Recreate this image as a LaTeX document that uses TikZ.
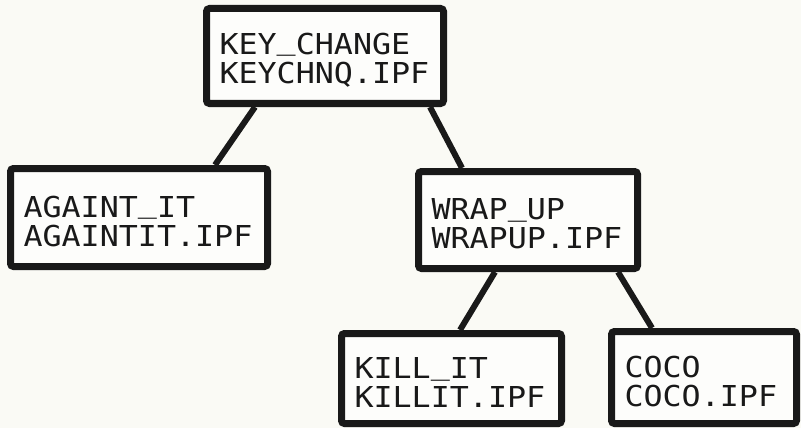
\documentclass[tikz,border=0pt]{standalone}
\usepackage{fontspec}
\setmonofont[FakeStretch=1.1]{DejaVu Sans Mono}
\usetikzlibrary{calc}
\definecolor{paper}{RGB}{250,250,245}
\definecolor{ink}{RGB}{25,25,25}
% underscore sitting just under the baseline
\newcommand\us{\raisebox{0.15em}{\_}}
% taller first line, so the two lines sit a little lower in the box
\newcommand\topline{\rule{0pt}{29pt}}
\tikzset{
  filebox/.style={draw=ink, line width=7pt, rounded corners=3pt, fill=white!60!paper,
    inner xsep=13pt, inner ysep=0pt, align=left, text=ink,
    font=\ttfamily\fontsize{28.8}{29}\selectfont},
  link/.style={draw=ink, line width=6pt}
}
\begin{document}
\begin{tikzpicture}[x=1pt,y=-1pt]
  \fill[paper] (0,0) rectangle (801,428);
  \useasboundingbox (0,0) rectangle (801,428);

  % module boxes
  \node[filebox, text width=211pt, minimum height=95pt] (kc) at (325,56)
    {\topline KEY\us CHANGE\\KEYCHNQ.IPF};
  \node[filebox, text width=231pt, minimum height=98pt] (ag) at (139,217.5)
    {\topline AGAINT\us IT\\AGAINTIT.IPF};
  \node[filebox, text width=193pt, minimum height=97pt] (wu) at (528,220)
    {\topline WRAP\us UP\\WRAPUP.IPF};
  \node[filebox, text width=194pt, minimum height=90pt] (ki) at (451.5,378.5)
    {\topline KILL\us IT\\KILLIT.IPF};
  \node[filebox, text width=159pt, minimum height=92pt] (co) at (704,377.5)
    {\topline COCO\\COCO.IPF};

  % call links
  \draw[link] ($(kc.south)+(-70,0)$) -- ($(ag.north)+(76,0)$);
  \draw[link] ($(kc.south)+(105,0)$) -- ($(wu.north)+(-66,0)$);
  \draw[link] ($(wu.south)+(-33,0)$) -- ($(ki.north)+(8.5,0)$);
  \draw[link] ($(wu.south)+(90,0)$) -- ($(co.north)+(-52,0)$);
\end{tikzpicture}
\end{document}
